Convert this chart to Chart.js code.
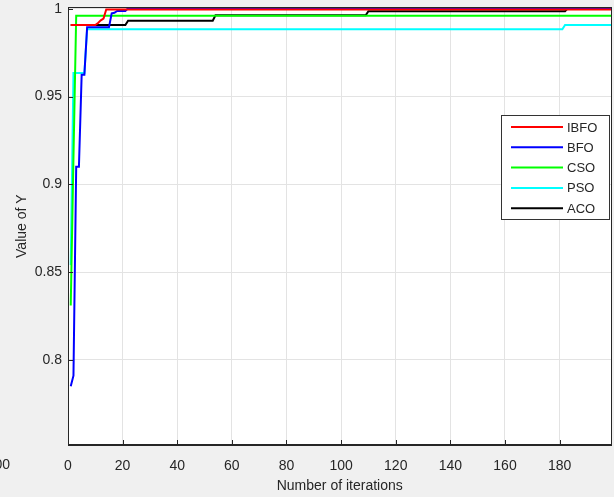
<!DOCTYPE html>
<html>
<head>
<meta charset="utf-8">
<script src="https://cdn.jsdelivr.net/npm/chart.js@4"></script>
<style>
html, body { margin: 0; padding: 0; background: #f0f0f0; }
</style>
</head>
<body>
<canvas id="chart" width="614" height="497"></canvas>
<script>
// series labels and colours (MATLAB r, b, g, c, k)
const seriesNames = ["IBFO", "BFO", "CSO", "PSO", "ACO"];
const seriesColors = ["#ff0000", "#0000ff", "#00ff00", "#00ffff", "#000000"];

// breakpoints: iteration -> value
const iterIBFO = [1, 10, 11, 12, 13, 14, 199];
const valIBFO = [0.9908, 0.9908, 0.992, 0.9935, 0.9945, 0.9996, 0.9996];

const iterBFO = [1, 2, 3, 4, 5, 6, 7, 15, 16, 17, 18, 21, 22, 199];
const valBFO = [0.785, 0.791, 0.910, 0.910, 0.9624, 0.9624, 0.9895, 0.9895, 0.9975, 0.9978, 0.9988, 0.9988, 1.0003, 1.0003];

const iterCSO = [1, 2, 3, 199];
const valCSO = [0.831, 0.915, 0.9961, 0.9961];

const iterPSO = [1, 2, 6, 7, 181, 182, 199];
const valPSO = [0.854, 0.9635, 0.9635, 0.9884, 0.9884, 0.9908, 0.9908];

const iterACO = [1, 21, 22, 53, 54, 109, 110, 182, 183, 199];
const valACO = [0.9908, 0.9908, 0.9933, 0.9933, 0.9963, 0.9963, 0.9987, 0.9987, 1.0003, 1.0003];

const xTicks = [0, 20, 40, 60, 80, 100, 120, 140, 160, 180];
const yTicks = [0.8, 0.85, 0.9, 0.95, 1];

const allIters = [iterIBFO, iterBFO, iterCSO, iterPSO, iterACO];
const allVals = [valIBFO, valBFO, valCSO, valPSO, valACO];

const FONT = "'Liberation Sans', Arial, sans-serif";
const TXT = "#262626";

const datasets = seriesNames.map((name, i) => ({
	label: name,
	data: allIters[i].map((x, j) => ({ x: x, y: allVals[i][j] })),
	borderColor: seriesColors[i],
	backgroundColor: seriesColors[i],
	borderWidth: 2,
	pointRadius: 0,
	tension: 0,
	fill: false,
}));

const matlabLook = {
	id: "matlabLook",
	beforeDraw(chart) {
		const { ctx, chartArea: a } = chart;
		ctx.save();
		ctx.fillStyle = "#f0f0f0";
		ctx.fillRect(0, 0, chart.width, chart.height);
		ctx.fillStyle = "#ffffff";
		ctx.fillRect(a.left, a.top, a.right - a.left, a.bottom - a.top);
		ctx.restore();
	},
	afterDatasetsDraw(chart) {
		const { ctx, chartArea: a, scales } = chart;
		ctx.save();
		// axes box
		ctx.strokeStyle = TXT;
		ctx.lineWidth = 1;
		ctx.strokeRect(Math.round(a.left) + 0.5, Math.round(a.top) + 0.5, Math.round(a.right - a.left) - 1, Math.round(a.bottom - a.top) - 1);
		// inward ticks
		ctx.beginPath();
		xTicks.forEach((t) => {
			const px = Math.round(scales.x.getPixelForValue(t)) + 0.5;
			ctx.moveTo(px, a.bottom);
			ctx.lineTo(px, a.bottom - 5);
		});
		yTicks.forEach((t) => {
			const py = Math.round(scales.y.getPixelForValue(t)) + 0.5;
			ctx.moveTo(a.left, py);
			ctx.lineTo(a.left + 5, py);
		});
		ctx.stroke();

		// legend box
		const bx = 501, by = 115, bw = 108, bh = 104;
		ctx.fillStyle = "#ffffff";
		ctx.fillRect(bx, by, bw, bh);
		ctx.strokeStyle = "#333333";
		ctx.strokeRect(bx + 0.5, by + 0.5, bw, bh);
		ctx.font = "13px " + FONT;
		ctx.textBaseline = "middle";
		chart.data.datasets.forEach((ds, i) => {
			const y = by + 12 + i * 20.3;
			ctx.strokeStyle = ds.borderColor;
			ctx.lineWidth = 2;
			ctx.beginPath();
			ctx.moveTo(bx + 10, y);
			ctx.lineTo(bx + 62, y);
			ctx.stroke();
			ctx.fillStyle = TXT;
			ctx.fillText(ds.label, bx + 66, y + 1);
		});
		ctx.restore();
	},
	afterDraw(chart) {
		// cut-off tick label from the neighbouring axes at the left edge
		const { ctx } = chart;
		ctx.save();
		ctx.font = "14px " + FONT;
		ctx.fillStyle = TXT;
		ctx.textAlign = "right";
		ctx.textBaseline = "middle";
		ctx.fillText("200", 10, 465);
		ctx.restore();
	},
};

new Chart(document.getElementById("chart"), {
	type: "line",
	data: { datasets: datasets },
	options: {
		responsive: false,
		animation: false,
		layout: { padding: { top: 7.3, right: 2.5, left: 0, bottom: 0 } },
		plugins: {
			legend: { display: false },
			tooltip: { enabled: false },
		},
		scales: {
			x: {
				type: "linear",
				min: 0,
				max: 199,
				afterBuildTicks: (s) => { s.ticks = xTicks.map((v) => ({ value: v })); },
				afterFit: (s) => { s.height = 52; s.paddingLeft = 0; s.paddingRight = 0; },
				ticks: {
					color: TXT,
					font: { family: FONT, size: 14 },
					padding: 13,
					maxRotation: 0,
					autoSkip: false,
					callback: (v) => String(v),
				},
				grid: { color: "#e3e3e3", drawTicks: false },
				border: { color: TXT },
				title: {
					display: true,
					text: "Number of iterations",
					color: TXT,
					font: { family: FONT, size: 14 },
					padding: { top: 0, bottom: 2 },
				},
			},
			y: {
				type: "linear",
				min: 0.7515,
				max: 1.0009,
				afterBuildTicks: (s) => { s.ticks = yTicks.map((v) => ({ value: v })); },
				afterFit: (s) => { s.width = 68; s.paddingTop = 0; s.paddingBottom = 0; },
				ticks: {
					color: TXT,
					font: { family: FONT, size: 14 },
					padding: 6,
					autoSkip: false,
					callback: (v) => String(v),
				},
				grid: { color: "#e3e3e3", drawTicks: false },
				border: { color: TXT },
				title: {
					display: true,
					text: "Value of Y",
					color: TXT,
					font: { family: FONT, size: 14 },
					padding: { top: 13.6, bottom: 0 },
				},
			},
		},
	},
	plugins: [matlabLook],
});
</script>
</body>
</html>
